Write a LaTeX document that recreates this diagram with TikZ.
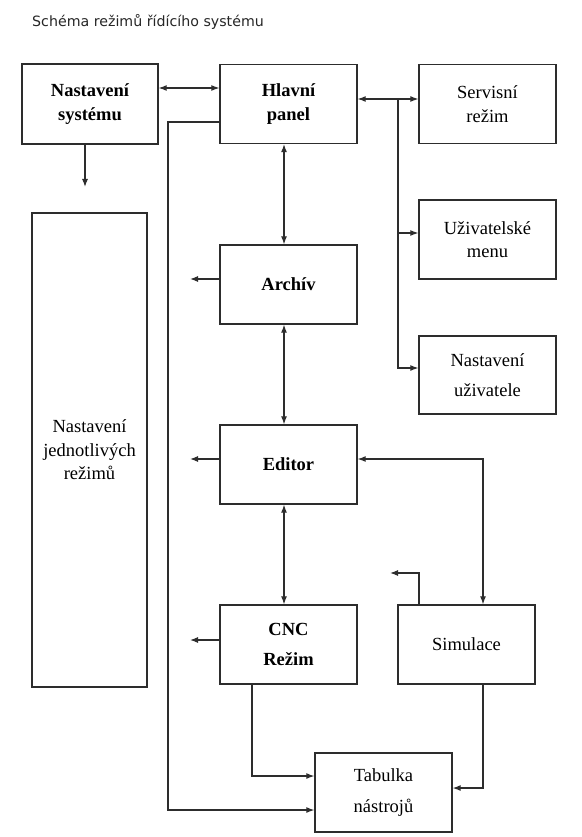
\documentclass[tikz,border=0pt]{standalone}
\usepackage{fontspec}
\setmainfont{Liberation Serif}
\newfontfamily\boxfont{Liberation Serif}
\newfontfamily\titlefont{DejaVu Sans}
\usetikzlibrary{arrows.meta,positioning,calc}
\definecolor{linegray}{RGB}{45,45,45}

\begin{document}
\begin{tikzpicture}[x=1pt,y=-1pt,
  modebox/.style={draw=linegray, line width=1.4pt, minimum width=137pt, minimum height=79pt, inner sep=2pt, align=center, font=\boxfont\fontsize{18.5}{23.5}\selectfont},
  boldbox/.style={modebox, font=\boxfont\fontsize{18.5}{23.5}\selectfont\bfseries},
  link/.style={draw=linegray, line width=1.1pt, -{Latex[length=8pt,width=6pt]}},
  dlink/.style={link, {Latex[length=8pt,width=6pt]}-{Latex[length=8pt,width=6pt]}}]
\useasboundingbox (0,0) rectangle (581,837);

\node[anchor=west, inner sep=0pt, text=black!85, font=\titlefont\fontsize{14.2}{16}\selectfont] (title) at (32,22) {Schéma režimů řídícího systému};

% top row
\node[boldbox, minimum width=136pt, minimum height=80pt] (nsys) at (90,104) {Nastavení\\systému};
\node[boldbox] (hlavni) at (288.5,104) {Hlavní\\panel};
\node[modebox] (servis) at (487.5,104) {Servisní\\režim};
\node[modebox] (uziv) at (487.5,239.5) {Uživatelské\\menu};
\node[modebox, minimum height=78pt] (nuziv) at (487.5,375) {Nastavení\\[7pt]uživatele};

% middle column
\node[boldbox] (archiv) at (288.5,284.5) {Archív};
\node[boldbox] (editor) at (288.5,464.5) {Editor};
\node[boldbox] (cnc) at (288.5,644.5) {CNC\\[7pt]Režim};
\node[modebox] (simul) at (466.5,644.5) {Simulace};
\node[modebox] (tabulka) at (383.5,792.5) {Tabulka\\[7pt]nástrojů};
\node[modebox, minimum width=115pt, minimum height=474pt] (nrez) at (89.5,450) {Nastavení\\jednotlivých\\režimů};

% free ends and bends
\coordinate (sysdown) at (85,187);
\coordinate (busx) at (168,0);
\coordinate (tabin) at ([yshift=-17.5pt]tabulka.west);
\coordinate (menubus) at (398,99);
\coordinate (simbus) at (483,459);
\coordinate (simtop) at (419,573);
\coordinate (simback) at (390,573);
\coordinate (cncdown) at (252,776);
\coordinate (simdown) at (483,788);

\draw[dlink] ([yshift=16pt]nsys.east) -- ([yshift=16pt]hlavni.west);
\draw[link] (nsys.south -| sysdown) -- (sysdown);
\draw[link] ([yshift=-18pt]hlavni.west) -| (busx |- tabin) -- (tabin);
\draw[dlink] ([yshift=5pt]hlavni.east) -- ([yshift=5pt]servis.west);
\draw[link] (menubus) |- ([yshift=6.5pt]uziv.west);
\draw[link] (menubus) |- ([yshift=7pt]nuziv.west);

\draw[dlink] ([xshift=-4.5pt]hlavni.south) -- ([xshift=-4.5pt]archiv.north);
\draw[dlink] ([xshift=-4.5pt]archiv.south) -- ([xshift=-4.5pt]editor.north);
\draw[dlink] ([xshift=-4.5pt]editor.south) -- ([xshift=-4.5pt]cnc.north);

% short arrows to the left
\foreach \m/\y in {archiv/279, editor/459, cnc/640} {
  \coordinate (\m-out) at (190,\y);
  \draw[link] (\m-out -| \m.west) -- (\m-out);
}

\draw[dlink] (simbus -| editor.east) -| (simbus |- simul.north);
\draw[link] (simul.north -| simtop) -- (simtop) -- (simback);
\draw[link] (cnc.south -| cncdown) -- (cncdown) -- (cncdown -| tabulka.west);
\draw[link] (simul.south -| simdown) -- (simdown) -- (simdown -| tabulka.east);
\end{tikzpicture}
\end{document}
